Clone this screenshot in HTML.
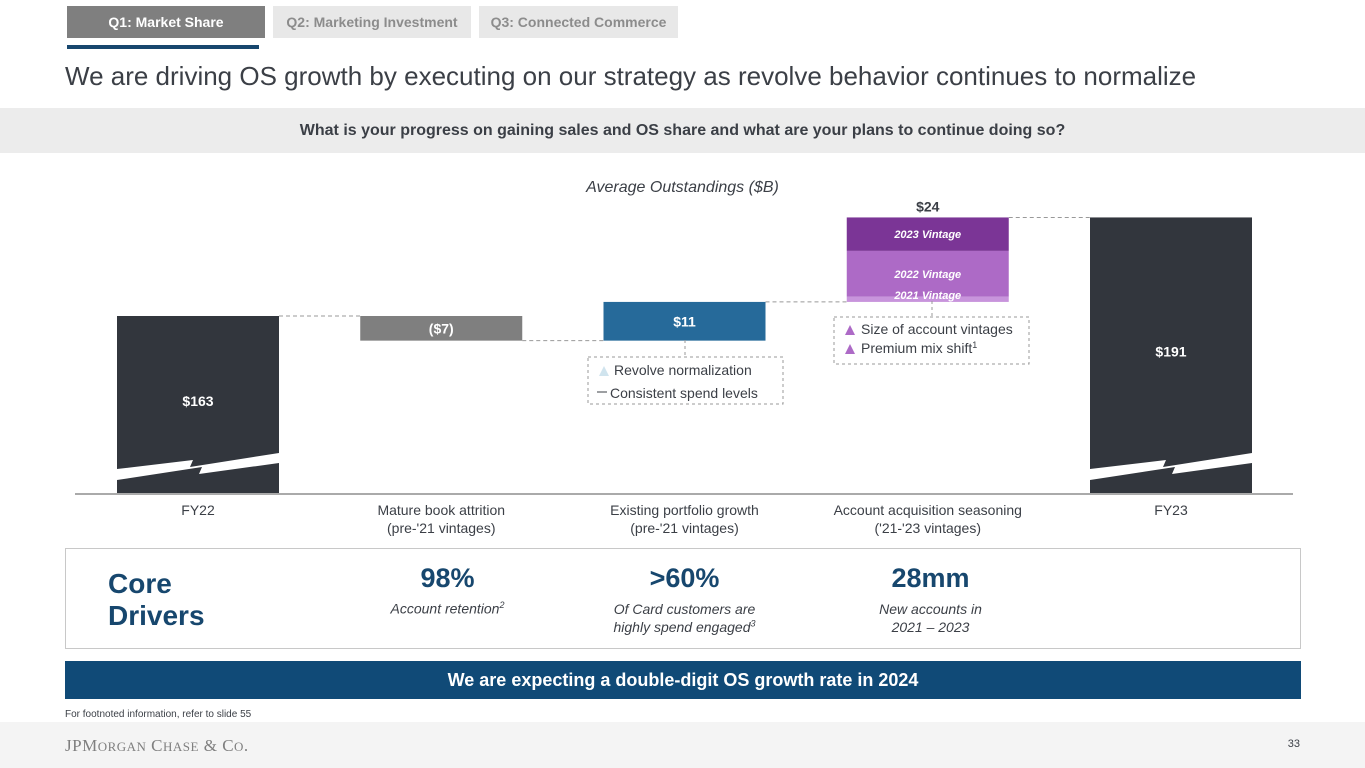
<!DOCTYPE html>
<html><head><meta charset="utf-8"><style>
body{margin:0;width:1365px;height:768px;overflow:hidden;background:#fff;font-family:"Liberation Sans",Arial,sans-serif;position:relative}
.abs{position:absolute}
.tab{position:absolute;top:6px;height:32px;line-height:32px;text-align:center;font-size:14px;font-weight:bold;color:#fff}
</style></head><body>
<div class="tab" style="left:67px;width:198px;background:#7f7f7f">Q1: Market Share</div>
<div class="tab" style="left:273px;width:198px;background:#e8e8e8;color:#8c8c8c">Q2: Marketing Investment</div>
<div class="tab" style="left:479px;width:199px;background:#e8e8e8;color:#8c8c8c">Q3: Connected Commerce</div>
<div class="abs" style="left:67px;top:45px;width:192px;height:4px;background:#17476e"></div>
<div class="abs" style="left:65px;top:61px;font-size:26px;color:#3b3f46">We are driving OS growth by executing on our strategy as revolve behavior continues to normalize</div>
<div class="abs" style="left:0;top:108px;width:1365px;height:45px;background:#ececec;text-align:center;line-height:45px;font-size:16px;font-weight:bold;color:#3b3f46">What is your progress on gaining sales and OS share and what are your plans to continue doing so?</div>
<div class="abs" style="left:0;width:1365px;top:179px;text-align:center;font-size:16px;font-style:italic;color:#3b3f46">Average Outstandings ($B)</div>
<svg class="abs" style="left:0;top:0" width="1365" height="560" id="chart"></svg>
<div class="abs" style="left:65px;top:548px;width:1234px;height:99px;border:1px solid #c8c8c8"></div>
<div class="abs" style="left:108px;top:568px;font-size:28px;font-weight:bold;color:#17476e;line-height:32px">Core<br>Drivers</div>
<div class="abs" style="left:330px;width:235px;top:563px;text-align:center;color:#17476e"><div style="font-size:27px;font-weight:bold">98%</div><div style="font-size:14px;font-style:italic;color:#3b3f46;margin-top:6px">Account retention<sup style="font-size:9px">2</sup></div></div>
<div class="abs" style="left:567px;width:235px;top:563px;text-align:center;color:#17476e"><div style="font-size:27px;font-weight:bold">&gt;60%</div><div style="font-size:14px;font-style:italic;color:#3b3f46;margin-top:6px;line-height:18px">Of Card customers are<br>highly spend engaged<sup style="font-size:9px;line-height:0">3</sup></div></div>
<div class="abs" style="left:813px;width:235px;top:563px;text-align:center;color:#17476e"><div style="font-size:27px;font-weight:bold">28mm</div><div style="font-size:14px;font-style:italic;color:#3b3f46;margin-top:6px;line-height:18px">New accounts in<br>2021 – 2023</div></div>
<div class="abs" style="left:65px;top:661px;width:1236px;height:38px;background:#104a77;color:#fff;text-align:center;line-height:38px;font-size:18px;font-weight:bold">We are expecting a double-digit OS growth rate in 2024</div>
<div class="abs" style="left:65px;top:709px;font-size:10px;color:#3b3f46">For footnoted information, refer to slide 55</div>
<div class="abs" style="left:0;top:722px;width:1365px;height:46px;background:#f4f4f4"></div>
<div class="abs" style="left:65px;top:736px;font-family:'Liberation Serif',serif;font-size:17px;color:#7f7f7f;letter-spacing:0.5px">JPM<span style="font-size:13px">ORGAN</span> C<span style="font-size:13px">HASE</span> &amp; C<span style="font-size:13px">O</span>.</div>
<div class="abs" style="left:1270px;width:30px;text-align:right;top:738px;font-size:11px;color:#3b3f46">33</div>
<script>
const categories=["FY22","Mature book attrition\n(pre-'21 vintages)","Existing portfolio growth\n(pre-'21 vintages)","Account acquisition seasoning\n('21-'23 vintages)","FY23"];
const deltas=[163,-7,11,24,191];
const labels=["$163","($7)","$11","$24","$191"];
const vintageNames=["2021 Vintage","2022 Vintage","2023 Vintage"];
const vintageValues=[1.5,13,9.5];
const NS="http://www.w3.org/2000/svg",svg=document.getElementById('chart');
const base=494,refV=163,refY=316,ppu=3.52;
const y=v=>refY-(v-refV)*ppu;
const cx=i=>198+i*243.25,bw=162;
function mk(t,a,p){const e=document.createElementNS(NS,t);for(const k in a)e.setAttribute(k,a[k]);(p||svg).appendChild(e);return e;}
let run=0,tops=[];
deltas.forEach((d,i)=>{
 let g=mk('g',{});
 
 
 let x0=cx(i)-bw/2,y0,y1,fill;
 if(i==0||i==deltas.length-1){run=d;y0=y(d);y1=base;fill='#32363d';
  mk('rect',{x:x0,y:y0,width:bw,height:y1-y0,fill:fill},g);
  mk('polygon',{points:`${x0},${base-25} ${x0+76},${base-34} ${x0+73},${base-27} ${x0+bw},${base-41} ${x0+bw},${base-31} ${x0+82},${base-20} ${x0+85},${base-27} ${x0},${base-14}`,fill:'#fff'},g);
  mk('text',{x:cx(i),y:(y0+y1)/2+1,'text-anchor':'middle','font-size':14,'font-weight':'bold',fill:'#fff'},g).textContent=labels[i];
 } else {
  let a=run,b=run+d;run=b;y0=y(Math.max(a,b));y1=y(Math.min(a,b));
  if(i==3){let acc=a,txt=[];vintageValues.forEach((v,j)=>{let ya=y(acc+v),yb=y(acc);acc+=v;
    let r=mk('rect',{x:x0,y:ya,width:bw,height:yb-ya,fill:['#c894dc','#ad6ac6','#7b3596'][j]},g);
    
    
    txt.push([j==0?yb-3:(ya+yb)/2+4,vintageNames[j]]);});
   txt.forEach(t=>mk('text',{x:cx(i),y:t[0],'text-anchor':'middle','font-size':11,'font-weight':'bold','font-style':'italic',fill:'#fff'},g).textContent=t[1]);
   mk('text',{x:cx(i),y:y0-6,'text-anchor':'middle','font-size':14,'font-weight':'bold',fill:'#3b3f46'},g).textContent=labels[i];
  } else {
   fill=i==1?'#7f7f7f':'#266a9a';
   mk('rect',{x:x0,y:y0,width:bw,height:y1-y0,fill:fill},g);
   mk('text',{x:cx(i),y:(y0+y1)/2+5,'text-anchor':'middle','font-size':14,'font-weight':'bold',fill:'#fff'},g).textContent=labels[i];
  }
 }
 tops.push(y(run));
 categories[i].split('\n').forEach((l,k)=>mk('text',{x:cx(i),y:515+k*18,'text-anchor':'middle','font-size':14,fill:'#3b3f46'}).textContent=l);
});
for(let i=0;i<deltas.length-1;i++){let ly=tops[i];mk('line',{x1:cx(i)+bw/2,x2:cx(i+1)-bw/2,y1:ly,y2:ly,stroke:'#999','stroke-dasharray':'4,3'});}
mk('line',{x1:75,x2:1293,y1:base,y2:base,stroke:'#aaa','stroke-width':2});
mk('line',{x1:685,x2:685,y1:340,y2:357,stroke:'#999','stroke-dasharray':'3,3'});
mk('rect',{x:588,y:357,width:195,height:47,fill:'none',stroke:'#999','stroke-dasharray':'3,3'});
mk('polygon',{points:'599,376 604,366 609,376',fill:'#d0e4ee'});
mk('text',{x:614,y:375,'font-size':14,fill:'#3b3f46'}).textContent='Revolve normalization';
mk('line',{x1:597,x2:607,y1:392,y2:392,stroke:'#3b3f46'});
mk('text',{x:610,y:398,'font-size':14,fill:'#3b3f46'}).textContent='Consistent spend levels';
mk('line',{x1:932,x2:932,y1:301,y2:317,stroke:'#999','stroke-dasharray':'3,3'});
mk('rect',{x:834,y:317,width:195,height:47,fill:'none',stroke:'#999','stroke-dasharray':'3,3'});
mk('polygon',{points:'845,335 850,325 855,335',fill:'#ad6ac6'});
mk('text',{x:861,y:334,'font-size':14,fill:'#3b3f46'}).textContent='Size of account vintages';
mk('polygon',{points:'845,354 850,344 855,354',fill:'#ad6ac6'});
let t=mk('text',{x:861,y:353,'font-size':14,fill:'#3b3f46'});t.textContent='Premium mix shift';
mk('tspan',{'font-size':9,dy:-5},t).textContent='1';
</script>
</body></html>
